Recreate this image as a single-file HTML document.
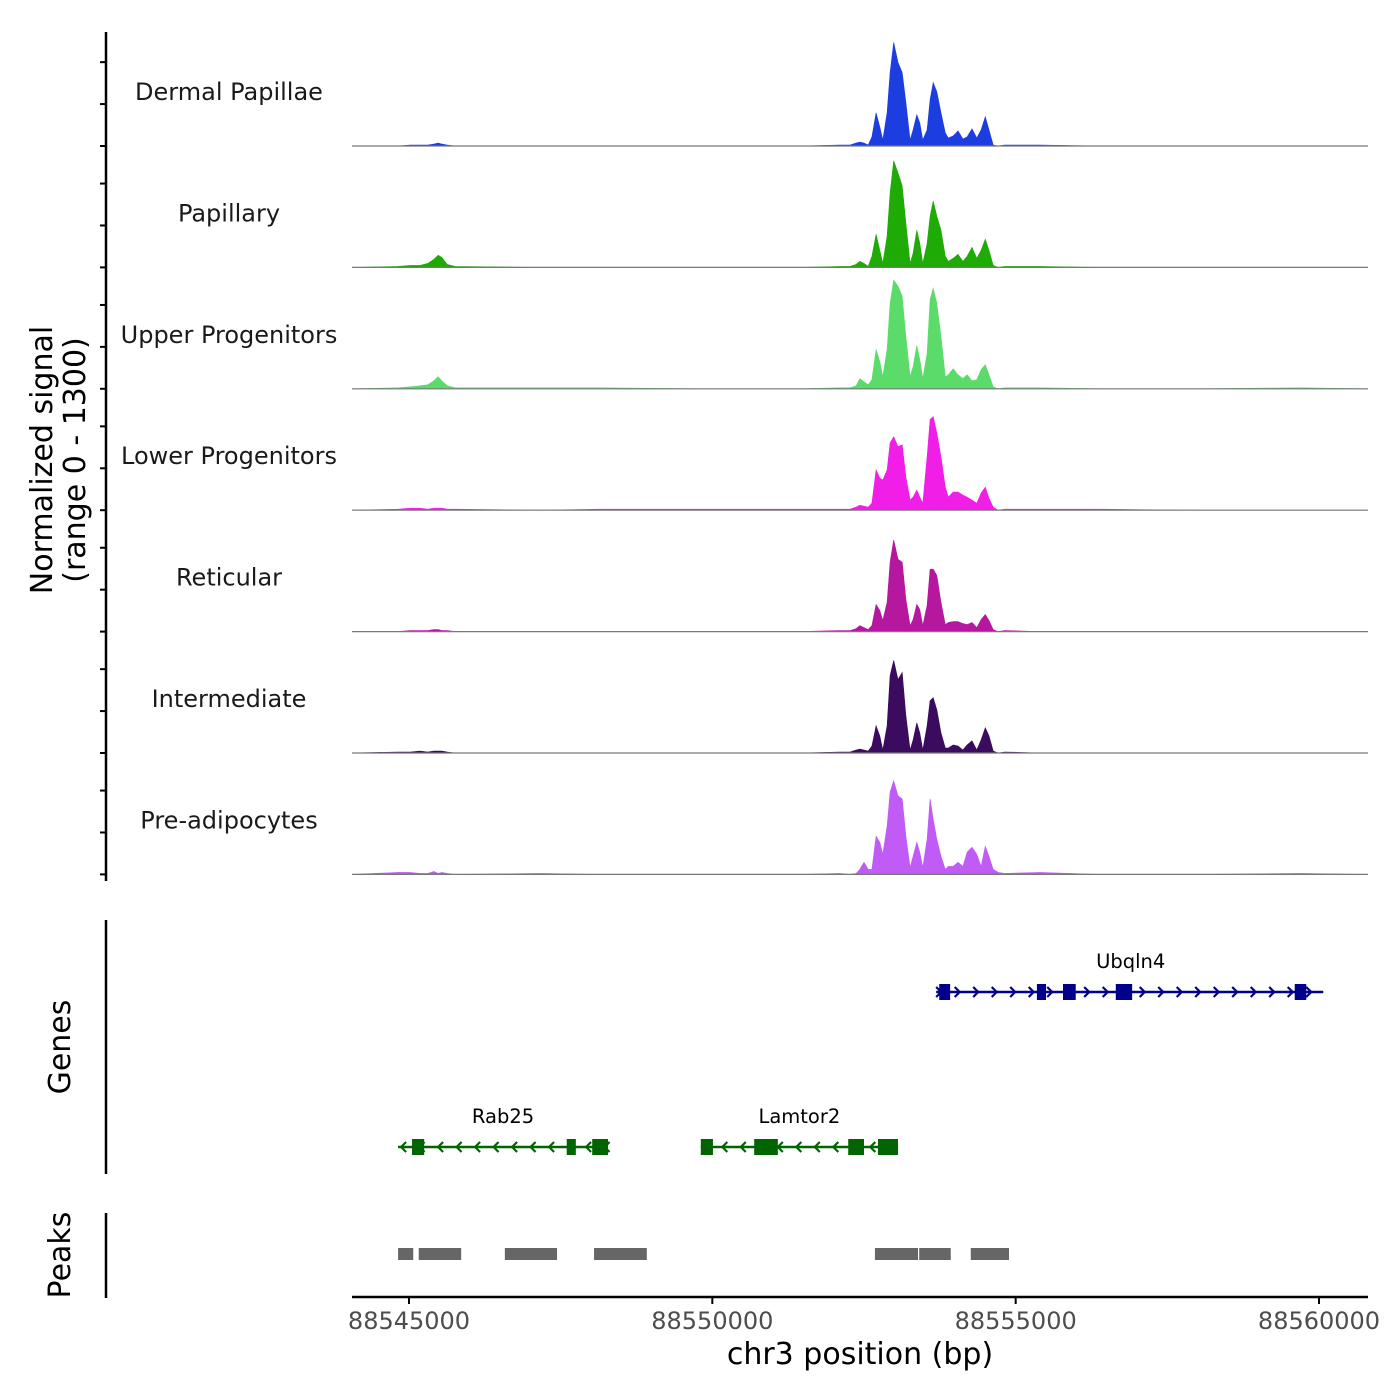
<!DOCTYPE html>
<html><head><meta charset="utf-8"><style>
body{margin:0;background:#fff}
svg{display:block;font-family:"DejaVu Sans","Liberation Sans",sans-serif}
</style></head><body>
<svg id="chart" width="1400" height="1400" viewBox="0 0 1400 1400"></svg>
<script>
const positions=[88544060,88544820,88545020,88545180,88545310,88545410,88545480,88545540,88545630,88545760,88547160,88548150,88549800,88551450,88552100,
88552270,88552370,88552430,88552500,88552570,88552630,88552700,88552760,88552810,88552880,88552930,88552990,88553060,88553130,88553190,88553260,88553310,88553370,88553420,88553470,88553540,88553590,88553640,88553700,88553770,88553840,88553890,88553970,88554050,88554130,88554200,88554280,88554360,88554430,88554500,88554560,88554630,88554710,
88554820,88555400,88556390,88558040,88559690,88560810];
const trackNames=["Dermal Papillae","Papillary","Upper Progenitors","Lower Progenitors","Reticular","Intermediate","Pre-adipocytes"];
const trackColors=["#1c3de0","#1eab05","#5bdc6a","#f01ee6","#b6179f","#3a0b5e","#c05cf5"];
const dermalValues=[0,0,12,12,12,24,36,24,12,0,0,0,0,0,12,
12,36,48,36,12,108,396,228,72,396,876,1236,996,876,516,72,192,372,276,72,192,552,756,648,396,156,96,120,180,84,108,204,96,192,348,192,12,0,
12,12,0,0,0,0];
const papillaryValues=[0,12,24,24,48,96,144,120,36,12,0,0,0,0,12,
12,36,72,48,12,132,396,204,48,372,888,1272,1128,972,528,48,168,444,288,48,288,612,792,612,444,132,72,108,156,72,132,240,108,204,336,204,24,0,
12,12,0,0,0,0];
const upperValues=[0,12,24,36,48,96,144,96,36,12,12,12,0,0,12,
12,36,120,84,48,108,468,324,144,468,1020,1296,1224,1104,624,144,264,516,348,120,420,1068,1200,1020,624,144,168,240,168,120,168,96,108,228,288,168,24,0,
12,12,0,0,12,0];
const lowerValues=[0,12,24,24,12,24,24,24,12,12,0,12,12,12,12,
12,36,60,48,36,84,480,384,360,480,804,876,756,780,396,120,156,240,156,84,636,1080,1116,924,636,276,156,216,216,180,156,120,84,204,276,144,36,0,
12,12,12,0,0,0];
const reticularValues=[0,0,12,12,12,24,24,12,12,0,0,0,0,0,12,
12,36,72,48,24,72,324,252,132,348,828,1092,864,828,384,72,144,324,264,72,312,744,744,672,348,84,108,120,120,96,84,108,48,144,204,132,24,0,
12,0,0,0,0,0];
const intermediateValues=[0,12,12,24,12,24,24,24,12,0,0,0,0,0,12,
12,36,48,36,24,84,324,204,36,324,924,1104,876,960,444,36,156,360,240,36,324,624,660,516,240,60,60,96,84,36,96,144,36,156,300,204,24,0,
12,0,0,0,0,0];
const preadipValues=[0,24,24,12,12,36,12,24,12,0,12,0,0,0,12,
0,12,60,144,60,60,456,384,240,576,984,1116,936,900,456,84,216,384,264,84,420,900,660,420,216,60,96,96,144,96,264,324,240,96,336,216,60,24,
12,24,0,0,12,0];
const seriesValues=[dermalValues,papillaryValues,upperValues,lowerValues,reticularValues,intermediateValues,preadipValues];
const xTicks=[88545000,88550000,88555000,88560000];
const yTicks=[0,500,1000];
const yMax=1300;
const geneNames=["Ubqln4","Rab25","Lamtor2"];
const geneStarts=[88553690,88544820,88549810];
const geneEnds=[88560070,88548280,88553060];
const geneStrands=["+","-","-"];
const geneExons=[[[88553740,88553920],[88555350,88555500],[88555780,88555990],[88556650,88556920],[88559600,88559790]],
[[88545050,88545250],[88547600,88547750],[88548020,88548280]],
[[88549810,88550010],[88550690,88551080],[88552240,88552500],[88552730,88553060]]];
const peakStarts=[88544820,88545160,88546580,88548050,88552680,88553410,88554260];
const peakEnds=[88545070,88545860,88547440,88548920,88553390,88553930,88554890];

const NS="http://www.w3.org/2000/svg";
const svg=document.getElementById('chart');
function mk(tag,attrs,parent){const e=document.createElementNS(NS,tag);for(const k in attrs)e.setAttribute(k,attrs[k]);(parent||svg).appendChild(e);return e;}
const X0=352,X1=1368;
function xs(bp){return 409+(bp-88545000)*(1319-409)/15000;}
const trackH=121.4,firstBase=146,yPx=109;
function ys(v,i){return firstBase+i*trackH-v/yMax*yPx;}

let ax=mk('line',{x1:106,y1:32,x2:106,y2:881,stroke:'#000','stroke-width':2.5});


for(let i=0;i<7;i++){
  for(const t of yTicks){
    const y=ys(t,i);
    const tk=mk('line',{x1:100,y1:y,x2:106,y2:y,stroke:'#000','stroke-width':2});
    
    
  }
  const base=firstBase+i*trackH;
  const g=mk('g',{});
  
  
  let d='M'+X0+','+base;
  const vals=seriesValues[i];
  for(let j=0;j<positions.length;j++){d+=' L'+xs(positions[j]).toFixed(1)+','+ys(Math.min(vals[j],yMax),i).toFixed(1);}
  d+=' L'+X1+','+base+' Z';
  const p=mk('path',{d:d,fill:trackColors[i],stroke:trackColors[i],'stroke-width':0.6},g);
  
  
  const bl=mk('line',{x1:X0,y1:base,x2:X1,y2:base,stroke:'#777','stroke-width':1.2},g);
  
  
  const lb=mk('text',{x:229,y:base-46,'text-anchor':'middle','font-size':24,fill:'#1a1a1a'},g);
  lb.textContent=trackNames[i];
  
  
}
const yt=mk('text',{transform:'translate(52,460) rotate(-90)','text-anchor':'middle','font-size':30,fill:'#000'});
yt.innerHTML='<tspan x="0" dy="0">Normalized signal</tspan><tspan x="0" dy="33">(range 0 - 1300)</tspan>';



const ga=mk('line',{x1:106,y1:920,x2:106,y2:1174,stroke:'#000','stroke-width':2.5});


const gt=mk('text',{transform:'translate(70,1047) rotate(-90)','text-anchor':'middle','font-size':30,fill:'#000'});
gt.textContent='Genes';


const geneY=[992,1147,1147];
for(let i=0;i<geneNames.length;i++){
  const col=geneStrands[i]==='+'?'#00008b':'#006400';
  const g=mk('g',{});
  
  
  const y=geneY[i],a=xs(geneStarts[i]),b=xs(geneEnds[i]);
  mk('line',{x1:a,y1:y,x2:b,y2:y,stroke:col,'stroke-width':2.5},g);
  const dir=geneStrands[i]==='+'?1:-1;
  for(let x=a+4;x<=b-2;x+=18.5){
    mk('polyline',{points:(x-4*dir)+','+(y-5)+' '+(x+1*dir)+','+y+' '+(x-4*dir)+','+(y+5),fill:'none',stroke:col,'stroke-width':2.2},g);
  }
  for(const ex of geneExons[i]){
    const r=mk('rect',{x:xs(ex[0]),y:y-8,width:xs(ex[1])-xs(ex[0]),height:16,fill:col},g);
    
    
  }
  const t=mk('text',{x:(a+b)/2+(i===0?1:0),y:y-24,'text-anchor':'middle','font-size':19.5,fill:'#000'},g);
  t.textContent=geneNames[i];
  
  
}

const pa=mk('line',{x1:106,y1:1213,x2:106,y2:1298,stroke:'#000','stroke-width':2.5});


const pt=mk('text',{transform:'translate(70,1255) rotate(-90)','text-anchor':'middle','font-size':30,fill:'#000'});
pt.textContent='Peaks';


for(let i=0;i<peakStarts.length;i++){
  const r=mk('rect',{x:xs(peakStarts[i]),y:1248,width:xs(peakEnds[i])-xs(peakStarts[i]),height:12,fill:'#666'});
  
  
}

const xa=mk('line',{x1:X0,y1:1297,x2:X1,y2:1297,stroke:'#000','stroke-width':2.5});


for(const t of xTicks){
  const x=xs(t);
  const tk=mk('line',{x1:x,y1:1297,x2:x,y2:1304,stroke:'#000','stroke-width':2});
  
  
  const tl=mk('text',{x:x,y:1329,'text-anchor':'middle','font-size':24,fill:'#4d4d4d'});
  tl.textContent=String(t);
  
  
}
const xt=mk('text',{x:860,y:1364,'text-anchor':'middle','font-size':30,fill:'#000'});
xt.textContent='chr3 position (bp)';


</script>
</body></html>
